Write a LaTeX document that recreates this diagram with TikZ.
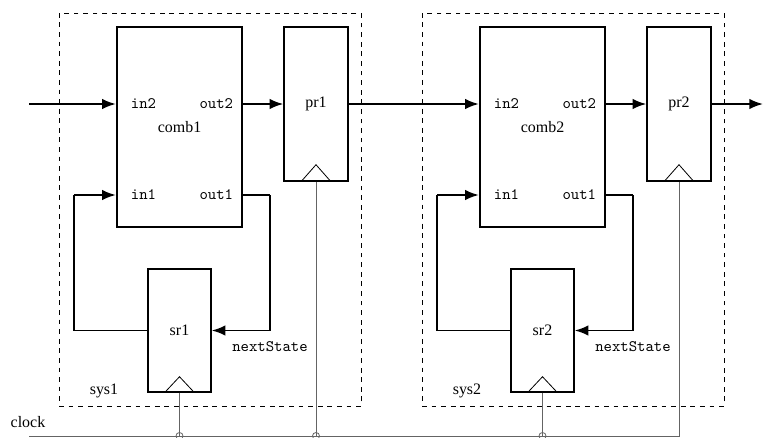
\documentclass[tikz,border=0pt]{standalone}
\usepackage{fontspec}
\setmainfont{Liberation Serif}
\usepackage{tikz}
\usetikzlibrary{arrows.meta}
\definecolor{clkgrey}{RGB}{100,100,100}
\tikzset{
  base/.style={font=\normalsize, inner sep=1pt},
  port/.style={base, font=\ttfamily},
  blk/.style={base, rectangle, draw, inner sep=0pt},
  comb/.style={blk, line width=1.5pt, minimum width=2.75cm, minimum height=4.4cm},
  preg/.style={blk, line width=0.9pt, minimum width=1.408cm, minimum height=3.388cm},
  sreg/.style={blk, line width=0.9pt, minimum width=1.386cm, minimum height=2.706cm},
  grp/.style={rectangle, draw, dashed, line width=0.5pt, minimum width=6.644cm, minimum height=8.646cm, inner sep=0pt},
  arr/.style={-{Latex[length=8.5pt,width=6.5pt]}, line width=1.1pt},
  wire/.style={line width=1.1pt},
  clk/.style={draw=clkgrey, line width=0.5pt},
  tri/.style={line width=0.5pt, line join=miter},
}
\begin{document}
\begin{tikzpicture}[x=0.022cm,y=-0.022cm]
  \useasboundingbox (0,0) rectangle (764,437);
  % the two subsystems
  \foreach \i/\o in {1/0,2/363}{
    \begin{scope}[shift={(\o,0)}]
      \node[grp] (sys\i) at (210,209.5) {};
      \node[base] (sys\i lbl) at (104,391) {sys\i};
      \node[comb] (comb\i) at (179.5,127) {};
      \node[base] (comb\i lbl) at (179.5,127) {comb\i};
      \node[port,anchor=west] (in2\i) at (129,104) {in2};
      \node[port,anchor=west] (in1\i) at (129,195) {in1};
      \node[port,anchor=east] (out2\i) at (235,104) {out2};
      \node[port,anchor=east] (out1\i) at (235,195) {out1};
      \node[preg] (pr\i) at (316,104) {pr\i};
      \node[sreg] (sr\i) at (179.5,330.5) {sr\i};
      \node[port] (ns\i) at (270,347) {nextState};
      \coordinate (r\i) at (270,195);
      \coordinate (l\i) at (74,195);
      % clock triangles
      \draw[tri] (pr\i.south) ++(-15,0) -- ++(15,-17) -- ++(15,17);
      \draw[tri] (sr\i.south) ++(-15,0) -- ++(15,-16) -- ++(15,16);
    \end{scope}
    % connectors inside a subsystem
    \draw[arr] (comb\i.east |- pr\i.west) -- (pr\i.west);
    \draw[wire] (comb\i.east |- r\i) -- (r\i);
    \draw[arr] (r\i) |- (sr\i.east);
    \draw[wire] (sr\i.west) -| (l\i);
    \draw[arr] (l\i) -- (comb\i.west |- l\i);
  }
  % data path between subsystems
  \coordinate (src) at (29,104);
  \coordinate (snk) at (763,104);
  \draw[arr] (src) -- (comb1.west |- src);
  \draw[arr] (pr1.east) -- (comb2.west |- pr1.east);
  \draw[arr] (pr2.east) -- (snk);
  % clock
  \coordinate (bus) at (29,436);
  \node[base] (clock) at (28,422) {clock};
  \draw[clk] (bus) -| (pr2.south);
  \foreach \n in {sr1,pr1,sr2}{
    \draw[clk] (\n.south) -- (\n.south |- bus);
    \draw[clk] (\n.south |- bus) circle (2.2pt);
  }
\end{tikzpicture}
\end{document}
